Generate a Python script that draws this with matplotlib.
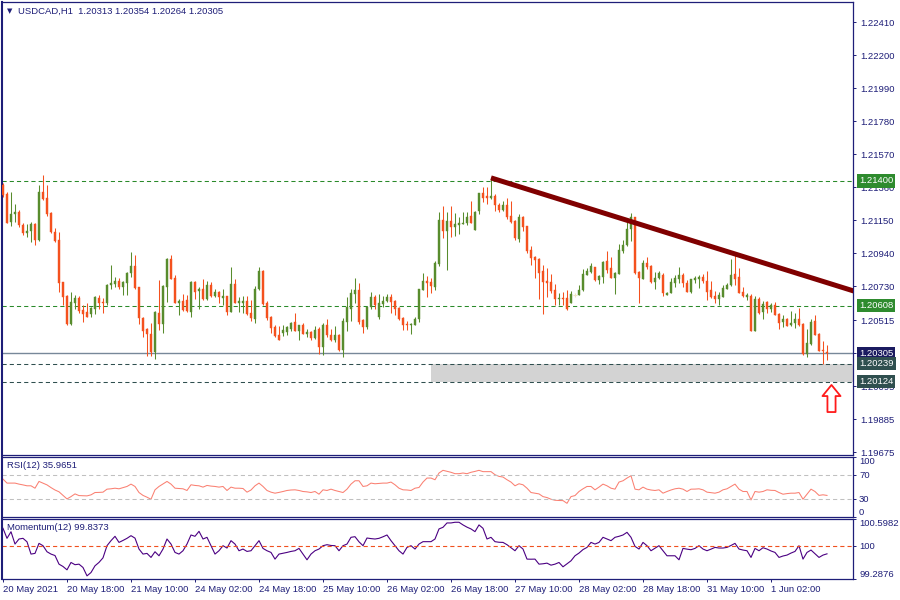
import matplotlib
matplotlib.use("Agg")
import matplotlib.pyplot as plt
from matplotlib.path import Path
from matplotlib.patches import Rectangle
import numpy as np

plt.rcParams['font.family'] = ['Liberation Sans', 'DejaVu Sans']
plt.rcParams['lines.scale_dashes'] = False

# ---------------- data ----------------
symbol = "USDCAD,H1"

opens = [
    1.21375, 1.21318, 1.21142, 1.21190, 1.21203, 1.21120, 1.21072, 1.21084, 1.21127, 1.21025,
    1.21330, 1.21292, 1.21199, 1.21076, 1.21025, 1.20758, 1.20669, 1.20491, 1.20626, 1.20656,
    1.20580, 1.20567, 1.20554, 1.20584, 1.20656, 1.20631, 1.20626, 1.20737, 1.20745, 1.20766,
    1.20724, 1.20754, 1.20813, 1.20860, 1.20728, 1.20529, 1.20461, 1.20427, 1.20313, 1.20563,
    1.20491, 1.20728, 1.20906, 1.20783, 1.20626, 1.20639, 1.20643, 1.20567, 1.20758, 1.20703,
    1.20716, 1.20648, 1.20741, 1.20669, 1.20694, 1.20656, 1.20669, 1.20567, 1.20745, 1.20626,
    1.20626, 1.20639, 1.20563, 1.20525, 1.20711, 1.20830, 1.20626, 1.20537, 1.20474, 1.20423,
    1.20436, 1.20440, 1.20457, 1.20503, 1.20448, 1.20486, 1.20427, 1.20440, 1.20402, 1.20461,
    1.20347, 1.20486, 1.20423, 1.20389, 1.20423, 1.20325, 1.20503, 1.20588, 1.20682, 1.20707,
    1.20516, 1.20474, 1.20597, 1.20660, 1.20537, 1.20618, 1.20635, 1.20660, 1.20639, 1.20592,
    1.20529, 1.20491, 1.20486, 1.20486, 1.20520, 1.20707, 1.20766, 1.20758, 1.20728, 1.20872,
    1.21152, 1.21084, 1.21144, 1.21110, 1.21122, 1.21127, 1.21131, 1.21178, 1.21089, 1.21212,
    1.21326, 1.21305, 1.21292, 1.21305, 1.21250, 1.21216, 1.21250, 1.21178, 1.21148, 1.21034,
    1.21173, 1.21114, 1.20961, 1.20919, 1.20906, 1.20826, 1.20766, 1.20758, 1.20707, 1.20652,
    1.20656, 1.20656, 1.20626, 1.20677, 1.20677, 1.20707, 1.20805, 1.20822, 1.20855, 1.20771,
    1.20792, 1.20889, 1.20847, 1.20783, 1.20809, 1.20957, 1.20991, 1.21093, 1.21169, 1.20822,
    1.20779, 1.20877, 1.20860, 1.20758, 1.20783, 1.20805, 1.20677, 1.20690, 1.20754, 1.20779,
    1.20800, 1.20754, 1.20694, 1.20771, 1.20779, 1.20792, 1.20766, 1.20707, 1.20669, 1.20652,
    1.20665, 1.20716, 1.20737, 1.20809, 1.20792, 1.20694, 1.20660, 1.20669, 1.20448, 1.20652,
    1.20567, 1.20631, 1.20588, 1.20614, 1.20554, 1.20503, 1.20525, 1.20482, 1.20495, 1.20525,
    1.20491, 1.20300, 1.20364, 1.20512, 1.20427, 1.20325, 1.20313]

highs = [
    1.21385, 1.21332, 1.21332, 1.21252, 1.21216, 1.21135, 1.21127, 1.21139, 1.21135, 1.21375,
    1.21438, 1.21375, 1.21203, 1.21101, 1.21076, 1.20760, 1.20677, 1.20694, 1.20673, 1.20669,
    1.20610, 1.20622, 1.20601, 1.20669, 1.20677, 1.20656, 1.20745, 1.20868, 1.20792, 1.20783,
    1.20762, 1.20822, 1.20949, 1.20928, 1.20728, 1.20537, 1.20465, 1.20499, 1.20576, 1.20771,
    1.20741, 1.20911, 1.20932, 1.20805, 1.20652, 1.20682, 1.20677, 1.20762, 1.20762, 1.20728,
    1.20779, 1.20766, 1.20758, 1.20716, 1.20699, 1.20711, 1.20669, 1.20855, 1.20779, 1.20660,
    1.20669, 1.20669, 1.20643, 1.20732, 1.20855, 1.20834, 1.20639, 1.20542, 1.20482, 1.20478,
    1.20482, 1.20478, 1.20503, 1.20563, 1.20486, 1.20499, 1.20461, 1.20448, 1.20478, 1.20474,
    1.20495, 1.20525, 1.20461, 1.20478, 1.20427, 1.20529, 1.20660, 1.20716, 1.20783, 1.20754,
    1.20520, 1.20601, 1.20694, 1.20677, 1.20682, 1.20669, 1.20682, 1.20682, 1.20643, 1.20597,
    1.20537, 1.20512, 1.20499, 1.20537, 1.20716, 1.20817, 1.20796, 1.20783, 1.20889, 1.21203,
    1.21241, 1.21203, 1.21241, 1.21195, 1.21173, 1.21203, 1.21203, 1.21275, 1.21207, 1.21326,
    1.21364, 1.21364, 1.21428, 1.21318, 1.21262, 1.21275, 1.21292, 1.21275, 1.21152, 1.21190,
    1.21178, 1.21114, 1.20987, 1.20923, 1.20911, 1.20868, 1.20847, 1.20809, 1.20745, 1.20690,
    1.20694, 1.20707, 1.20703, 1.20690, 1.20737, 1.20838, 1.20847, 1.20881, 1.20855, 1.20805,
    1.20889, 1.20953, 1.20919, 1.20822, 1.20999, 1.21025, 1.21152, 1.21199, 1.21173, 1.20830,
    1.20898, 1.20919, 1.20864, 1.20822, 1.20826, 1.20817, 1.20694, 1.20783, 1.20800, 1.20855,
    1.20813, 1.20771, 1.20779, 1.20796, 1.20800, 1.20809, 1.20826, 1.20766, 1.20699, 1.20694,
    1.20741, 1.20749, 1.20906, 1.20936, 1.20847, 1.20724, 1.20690, 1.20682, 1.20669, 1.20665,
    1.20635, 1.20635, 1.20626, 1.20631, 1.20563, 1.20546, 1.20529, 1.20576, 1.20563, 1.20592,
    1.20495, 1.20457, 1.20525, 1.20550, 1.20431, 1.20385, 1.20354]

lows = [
    1.21301, 1.21131, 1.21114, 1.21142, 1.21110, 1.21059, 1.21046, 1.21014, 1.20995, 1.21019,
    1.21281, 1.21178, 1.21072, 1.21014, 1.20694, 1.20610, 1.20484, 1.20486, 1.20588, 1.20563,
    1.20503, 1.20533, 1.20537, 1.20554, 1.20588, 1.20563, 1.20610, 1.20716, 1.20724, 1.20716,
    1.20677, 1.20677, 1.20792, 1.20716, 1.20491, 1.20410, 1.20287, 1.20287, 1.20270, 1.20453,
    1.20436, 1.20631, 1.20775, 1.20622, 1.20546, 1.20576, 1.20567, 1.20533, 1.20652, 1.20588,
    1.20643, 1.20643, 1.20660, 1.20660, 1.20626, 1.20610, 1.20546, 1.20567, 1.20622, 1.20567,
    1.20563, 1.20550, 1.20508, 1.20495, 1.20707, 1.20614, 1.20516, 1.20431, 1.20406, 1.20389,
    1.20414, 1.20423, 1.20448, 1.20448, 1.20389, 1.20427, 1.20406, 1.20389, 1.20393, 1.20300,
    1.20296, 1.20410, 1.20381, 1.20376, 1.20321, 1.20283, 1.20448, 1.20512, 1.20626, 1.20491,
    1.20431, 1.20457, 1.20588, 1.20588, 1.20525, 1.20601, 1.20631, 1.20563, 1.20550, 1.20516,
    1.20453, 1.20453, 1.20427, 1.20482, 1.20503, 1.20707, 1.20665, 1.20686, 1.20707, 1.20860,
    1.21038, 1.20834, 1.21046, 1.21050, 1.21063, 1.21127, 1.21122, 1.21131, 1.21089, 1.21190,
    1.21267, 1.21254, 1.21288, 1.21212, 1.21203, 1.21207, 1.21161, 1.21135, 1.21025, 1.21012,
    1.21080, 1.20944, 1.20868, 1.20783, 1.20652, 1.20554, 1.20665, 1.20686, 1.20610, 1.20614,
    1.20614, 1.20580, 1.20622, 1.20665, 1.20673, 1.20703, 1.20800, 1.20817, 1.20766, 1.20745,
    1.20754, 1.20817, 1.20783, 1.20682, 1.20809, 1.20944, 1.20987, 1.21016, 1.20809, 1.20626,
    1.20775, 1.20843, 1.20754, 1.20711, 1.20779, 1.20669, 1.20673, 1.20686, 1.20724, 1.20754,
    1.20728, 1.20694, 1.20690, 1.20749, 1.20720, 1.20749, 1.20643, 1.20656, 1.20626, 1.20614,
    1.20660, 1.20711, 1.20732, 1.20737, 1.20686, 1.20665, 1.20643, 1.20448, 1.20448, 1.20554,
    1.20525, 1.20559, 1.20567, 1.20546, 1.20461, 1.20474, 1.20478, 1.20478, 1.20465, 1.20478,
    1.20296, 1.20279, 1.20359, 1.20419, 1.20317, 1.20239, 1.20264]

closes = [
    1.21311, 1.21135, 1.21190, 1.21203, 1.21122, 1.21072, 1.21084, 1.21127, 1.21025, 1.21330,
    1.21288, 1.21190, 1.21078, 1.21021, 1.20754, 1.20665, 1.20491, 1.20631, 1.20656, 1.20576,
    1.20554, 1.20537, 1.20592, 1.20660, 1.20626, 1.20626, 1.20737, 1.20754, 1.20766, 1.20724,
    1.20758, 1.20817, 1.20860, 1.20720, 1.20529, 1.20448, 1.20427, 1.20313, 1.20567, 1.20491,
    1.20732, 1.20906, 1.20779, 1.20626, 1.20639, 1.20580, 1.20571, 1.20758, 1.20694, 1.20716,
    1.20652, 1.20737, 1.20669, 1.20694, 1.20660, 1.20669, 1.20567, 1.20745, 1.20626, 1.20635,
    1.20639, 1.20554, 1.20529, 1.20716, 1.20830, 1.20618, 1.20529, 1.20465, 1.20414, 1.20389,
    1.20453, 1.20470, 1.20495, 1.20448, 1.20482, 1.20427, 1.20440, 1.20402, 1.20453, 1.20347,
    1.20486, 1.20423, 1.20389, 1.20423, 1.20325, 1.20508, 1.20597, 1.20686, 1.20707, 1.20503,
    1.20474, 1.20597, 1.20660, 1.20610, 1.20622, 1.20639, 1.20660, 1.20631, 1.20588, 1.20525,
    1.20486, 1.20486, 1.20491, 1.20525, 1.20711, 1.20766, 1.20754, 1.20732, 1.20881, 1.21152,
    1.21084, 1.21144, 1.21110, 1.21127, 1.21131, 1.21131, 1.21173, 1.21135, 1.21203, 1.21326,
    1.21292, 1.21292, 1.21305, 1.21246, 1.21216, 1.21246, 1.21173, 1.21139, 1.21038, 1.21173,
    1.21110, 1.20953, 1.20911, 1.20898, 1.20817, 1.20758, 1.20749, 1.20699, 1.20652, 1.20656,
    1.20652, 1.20584, 1.20682, 1.20677, 1.20707, 1.20809, 1.20830, 1.20860, 1.20771, 1.20796,
    1.20885, 1.20834, 1.20783, 1.20813, 1.20961, 1.20991, 1.21093, 1.21169, 1.20817, 1.20783,
    1.20877, 1.20855, 1.20758, 1.20783, 1.20813, 1.20690, 1.20690, 1.20758, 1.20783, 1.20800,
    1.20754, 1.20694, 1.20775, 1.20783, 1.20792, 1.20766, 1.20694, 1.20660, 1.20652, 1.20677,
    1.20720, 1.20741, 1.20805, 1.20779, 1.20690, 1.20669, 1.20677, 1.20448, 1.20652, 1.20559,
    1.20618, 1.20588, 1.20614, 1.20550, 1.20499, 1.20525, 1.20478, 1.20499, 1.20525, 1.20482,
    1.20300, 1.20372, 1.20503, 1.20423, 1.20321, 1.20321, 1.20305]

rsi = [
    63.2, 56.5, 56.5, 56.5, 54.8, 53.5, 52.0, 52.0, 48.0, 59.3,
    56.5, 53.5, 49.0, 45.0, 42.0, 36.0, 30.1, 34.0, 38.5, 35.7,
    35.5, 35.2, 36.9, 40.8, 41.0, 41.4, 46.4, 47.0, 48.0, 47.0,
    49.0, 50.9, 54.8, 50.9, 40.8, 36.0, 33.0, 29.6, 45.3, 50.9,
    55.0, 59.3, 54.8, 48.0, 47.5, 47.0, 44.2, 53.7, 52.6, 52.0,
    49.8, 52.6, 51.5, 50.9, 49.8, 50.9, 44.2, 49.8, 48.0, 48.0,
    47.5, 41.4, 45.0, 52.0, 56.5, 50.9, 44.2, 41.4, 39.7, 41.0,
    42.5, 44.2, 45.0, 45.3, 44.2, 42.5, 41.9, 40.8, 42.5, 38.0,
    45.3, 44.2, 46.4, 44.2, 42.5, 40.8, 46.4, 54.8, 60.4, 60.4,
    50.9, 52.0, 56.5, 55.4, 56.0, 56.5, 56.5, 58.2, 53.7, 48.0,
    45.3, 45.0, 44.2, 48.0, 49.2, 58.2, 64.9, 64.9, 62.1, 73.3,
    77.8, 76.1, 74.5, 72.2, 72.2, 73.3, 72.2, 74.5, 76.0, 77.8,
    75.6, 75.6, 75.6, 70.5, 67.7, 66.6, 62.1, 58.2, 52.0, 55.4,
    53.7, 48.0, 40.8, 39.7, 38.5, 34.0, 32.4, 29.6, 27.9, 27.5,
    27.3, 22.8, 34.0, 35.7, 42.5, 47.0, 50.9, 50.9, 45.3, 49.8,
    54.8, 52.0, 48.0, 46.4, 58.2, 60.4, 64.9, 68.8, 46.4, 45.3,
    49.8, 46.4, 45.0, 44.2, 45.3, 39.7, 42.5, 45.0, 47.0, 48.0,
    46.4, 42.5, 46.4, 46.5, 47.0, 45.3, 41.4, 40.5, 39.7, 41.4,
    45.3, 47.0, 50.9, 54.8, 46.4, 42.5, 42.5, 28.4, 42.5, 41.4,
    42.5, 45.3, 44.5, 44.2, 40.8, 38.0, 39.0, 39.7, 39.7, 40.8,
    29.6, 38.0, 46.4, 42.5, 36.0, 37.0, 35.9651]

momentum = [
    100.395, 100.176, 100.32, 100.051, 100.161, 100.176, 100.10, 99.832, 99.847, 100.066,
    100.015, 99.883, 99.832, 99.80, 99.612, 99.561, 99.488, 99.649, 99.60, 99.612,
    99.539, 99.356, 99.429, 99.576, 99.65, 99.75, 100.015, 100.125, 100.220, 100.087,
    100.13, 100.176, 100.234, 100.18, 99.942, 99.832, 99.847, 99.759, 99.883, 99.795,
    99.942, 100.161, 100.051, 99.868, 99.832, 99.905, 100.051, 100.249, 100.220, 100.329,
    100.161, 100.198, 100.015, 99.832, 99.905, 100.015, 99.964, 100.125, 100.051, 99.905,
    99.942, 99.890, 99.905, 100.015, 100.125, 99.956, 99.905, 99.868, 99.722, 99.832,
    99.85, 99.868, 99.890, 99.905, 99.956, 99.832, 99.707, 99.832, 99.905, 99.942,
    100.015, 100.037, 100.02, 100.015, 99.905, 100.015, 100.051, 100.198, 100.212, 100.10,
    100.015, 100.183, 100.17, 100.161, 100.176, 100.21, 100.249, 100.125, 100.015, 99.905,
    99.832, 99.978, 100.015, 99.942, 100.051, 100.103, 100.103, 100.103, 100.161, 100.381,
    100.417, 100.512, 100.512, 100.527, 100.527, 100.469, 100.42, 100.381, 100.322, 100.469,
    100.395, 100.161, 100.198, 100.103, 100.09, 100.087, 100.037, 99.97, 99.905, 100.015,
    99.942, 99.722, 99.72, 99.722, 99.612, 99.62, 99.634, 99.590, 99.612, 99.649,
    99.554, 99.62, 99.685, 99.795, 99.854, 99.93, 99.978, 100.087, 100.051, 100.087,
    100.198, 100.161, 100.125, 100.198, 100.22, 100.249, 100.307, 100.198, 100.000, 99.942,
    100.087, 100.015, 99.905, 99.96, 100.015, 99.905, 99.795, 99.795, 99.795, 99.707,
    99.956, 99.94, 99.927, 99.956, 100.015, 99.942, 99.905, 99.94, 99.978, 99.964,
    99.964, 99.978, 100.02, 100.066, 99.942, 99.920, 99.905, 99.759, 99.956, 99.905,
    99.971, 99.942, 99.90, 99.868, 99.759, 99.79, 99.810, 99.854, 99.890, 100.015,
    99.722, 99.868, 99.920, 99.84, 99.759, 99.810, 99.8373]

tick_bars = [0, 16, 32, 48, 64, 80, 96, 112, 128, 144, 160, 176, 192]
tick_labels = ["20 May 2021", "20 May 18:00", "21 May 10:00", "24 May 02:00",
               "24 May 18:00", "25 May 10:00", "26 May 02:00", "26 May 18:00",
               "27 May 10:00", "28 May 02:00", "28 May 18:00", "31 May 10:00",
               "1 Jun 02:00"]
price_ticks = [1.22410, 1.22200, 1.21990, 1.21780, 1.21570, 1.21360, 1.21150,
               1.20940, 1.20730, 1.20515, 1.20305, 1.20095, 1.19885, 1.19675]

resistance_high = 1.21400
support_mid = 1.20608
zone_top = 1.20239
zone_bottom = 1.20124
zone_start_bar = 107
trend_bars = [122, 184]
trend_prices = [1.21420, 1.20928]
arrow_bar = 207
arrow_price = 1.20017

rsi_levels = [30, 70]
rsi_ticks = [100, 70, 30, 0]
mom_level = 100
mom_min, mom_max = 99.2876, 100.5982

# ---------------- style ----------------
NAVY = '#1e1e78'
BULL = '#588c2d'
BEAR = '#f4511e'
DOJI = '#efe6c4'
GREEN_LINE = '#2a8a2a'
SLATE = '#2f4f4f'
FS = 6.8

fig = plt.figure(figsize=(9, 6), dpi=100)
W, H = 900.0, 600.0
left, width = 2 / W, 851 / W
ax = fig.add_axes([left, 145 / H, width, 453 / H])
ax_rsi = fig.add_axes([left, 83 / H, width, 60 / H])
ax_mom = fig.add_axes([left, 21 / H, width, 60 / H])

xlim = (-0.25, 212.5)
for a in (ax, ax_rsi, ax_mom):
    a.set_xlim(*xlim)
    for s in a.spines.values():
        s.set_color(NAVY)
        s.set_linewidth(0.9)
    a.spines['left'].set_linewidth(1.5)
    a.yaxis.tick_right()
    a.tick_params(axis='y', direction='out', length=2.5, width=0.7, color=NAVY,
                  labelcolor=NAVY, labelsize=FS, pad=3)
    a.tick_params(axis='x', bottom=False, labelbottom=False)

# ---------------- main candles ----------------
o = np.array(opens); h = np.array(highs); l = np.array(lows); c = np.array(closes)
x = np.arange(len(c))
up = c > o
dn = c < o
dj = c == o
ax.vlines(x[up], l[up], h[up], color=BULL, lw=0.75, zorder=3)
ax.vlines(x[dn], l[dn], h[dn], color=BEAR, lw=0.75, zorder=3)
ax.vlines(x[dj], l[dj], h[dj], color=DOJI, lw=0.75, zorder=3)
ax.bar(x[up], (c - o)[up], bottom=o[up], width=0.68, color=BULL, edgecolor=BULL,
       lw=0.3, zorder=3)
ax.bar(x[dn], (o - c)[dn], bottom=c[dn], width=0.68, color=BEAR, edgecolor=BEAR,
       lw=0.3, zorder=3)
ax.hlines(c[dj], x[dj] - 0.4, x[dj] + 0.4, color=DOJI, lw=0.75, zorder=3)

ax.set_ylim(1.196574, 1.225384)
ax.set_yticks(price_ticks)
ax.set_yticklabels([f"{p:.5f}" for p in price_ticks])

# zone rectangle
ax.add_patch(Rectangle((zone_start_bar, zone_bottom), xlim[1] + 5 - zone_start_bar,
                       zone_top - zone_bottom, facecolor='#d3d3d3', edgecolor='none',
                       zorder=1))

dash = (3.0, 2.2)
ax.axhline(resistance_high, color=GREEN_LINE, lw=0.75, dashes=dash, zorder=2)
ax.axhline(support_mid, color=GREEN_LINE, lw=0.75, dashes=dash, zorder=2)
ax.axhline(zone_top, color=SLATE, lw=0.75, dashes=dash, zorder=2)
ax.axhline(zone_bottom, color=SLATE, lw=0.75, dashes=dash, zorder=2)
ax.axhline(closes[-1], color='#778899', lw=1.0, zorder=2)

# trend line (ray)
slope = (trend_prices[1] - trend_prices[0]) / (trend_bars[1] - trend_bars[0])
x_end = xlim[1] + 2
ax.plot([trend_bars[0], x_end],
        [trend_prices[0], trend_prices[0] + slope * (x_end - trend_bars[0])],
        color='#800000', lw=3.6, solid_capstyle='butt', zorder=4)

# arrow marker
arrow_path = Path([(0, 0.5), (0.333, 0.09), (0.15, 0.09), (0.15, -0.5),
                   (-0.15, -0.5), (-0.15, 0.09), (-0.333, 0.09), (0, 0.5)],
                  [Path.MOVETO] + [Path.LINETO] * 6 + [Path.CLOSEPOLY])
ax.plot([arrow_bar], [arrow_price], marker=arrow_path, ms=19.5, mfc='white',
        mec='#ff1a1a', mew=1.3, zorder=5, clip_on=False)


def right_label(a, val, text, fc=None, va='center', color=NAVY):
    kw = {}
    if fc is not None:
        kw['bbox'] = dict(boxstyle='square,pad=0.22', fc=fc, ec='none')
        color = 'white'
    a.annotate(text, xy=(1, val), xycoords=('axes fraction', 'data'),
               xytext=(6, 0), textcoords='offset pixels', ha='left', va=va,
               fontsize=FS, color=color, zorder=10, annotation_clip=False, **kw)


right_label(ax, resistance_high, f"{resistance_high:.5f}", fc='#2e8b2e')
right_label(ax, support_mid, f"{support_mid:.5f}", fc='#2e8b2e')
right_label(ax, closes[-1], f"{closes[-1]:.5f}", fc='#1b1b60')
right_label(ax, zone_top, f"{zone_top:.5f}", fc=SLATE)
right_label(ax, zone_bottom, f"{zone_bottom:.5f}", fc=SLATE)

# ---------------- RSI ----------------
ax_rsi.set_ylim(0, 100)
ax_rsi.plot(x, rsi, color='#fa8072', lw=0.75)
for lv in rsi_levels:
    ax_rsi.axhline(lv, color='#c0c0c0', lw=0.75, dashes=dash)
ax_rsi.set_yticks(rsi_ticks)
ax_rsi.set_yticklabels([])
for t in rsi_ticks:
    va = 'top' if t == 100 else ('bottom' if t == 0 else 'center')
    right_label(ax_rsi, t, str(t), va=va)

# ---------------- Momentum ----------------
ax_mom.set_ylim(mom_min, mom_max)
ax_mom.plot(x, momentum, color='#4b0082', lw=0.8)
ax_mom.axhline(mom_level, color='#f0501e', lw=0.8, dashes=dash)
ax_mom.set_yticks([mom_max, mom_level, mom_min])
ax_mom.set_yticklabels([])
right_label(ax_mom, mom_max, f"{mom_max:.4f}", va='top')
right_label(ax_mom, mom_level, f"{mom_level}", va='center')
right_label(ax_mom, mom_min, f"{mom_min:.4f}", va='bottom')

ax_mom.tick_params(axis='x', bottom=True, labelbottom=True, direction='out',
                   length=2.5, width=0.7, color=NAVY, labelcolor=NAVY,
                   labelsize=FS, pad=2)
ax_mom.set_xticks(tick_bars)
ax_mom.set_xticklabels(tick_labels, ha='left')

# ---------------- header texts ----------------
fig.text(7 / W, 1 - 11 / H, '\u25bc', fontsize=5, color=NAVY, va='center',
         family=['DejaVu Sans'])
fig.text(18 / W, 1 - 11 / H,
         f"{symbol}  {opens[-1]:.5f} {highs[-1]:.5f} {lows[-1]:.5f} {closes[-1]:.5f}",
         fontsize=FS, color=NAVY, va='center')
fig.text(7 / W, 1 - 466 / H, f"RSI(12) {rsi[-1]:.4f}", fontsize=FS, color=NAVY,
         va='center')
fig.text(7 / W, 1 - 528 / H, f"Momentum(12) {momentum[-1]:.4f}", fontsize=FS,
         color=NAVY, va='center')

fig.savefig('out.png', dpi=100)
